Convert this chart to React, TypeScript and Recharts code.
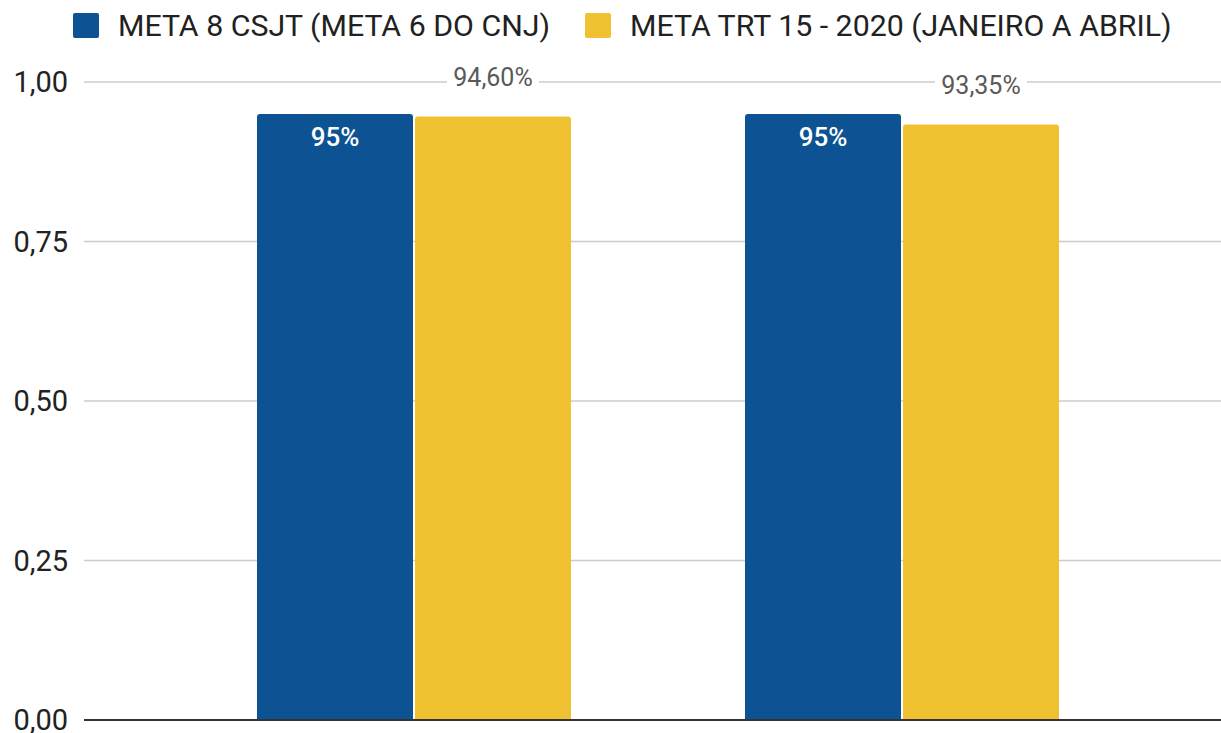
import React from "react";
import { BarChart, Bar, XAxis, YAxis, CartesianGrid, Legend, LabelList, ReferenceLine } from "recharts";

const categories = ["1", "2"];
const meta8Values = [0.95, 0.95];
const trt15Values = [0.946, 0.9335];
const yTicks = [0, 0.25, 0.5, 0.75, 1];
const seriesNames = ["META 8 CSJT (META 6 DO CNJ)", "META TRT 15 - 2020 (JANEIRO A ABRIL)"];
const seriesColors = ["#0D5394", "#F0C232"];

const data = categories.map((c, i) => ({
  cat: c,
  meta8: meta8Values[i],
  trt15: trt15Values[i],
}));

const FONT = "Roboto, 'Noto Sans', sans-serif";

const fmtTick = (v: number) => v.toFixed(2).replace(".", ",");
const fmtInt = (v: number) => `${Math.round(v * 100)}%`;
const fmtDec = (v: number) => `${(v * 100).toFixed(2).replace(".", ",")}%`;

const BlueLabel = (props: any) => {
  const { x, y, width, value } = props;
  return (
    <text
      x={x + width / 2}
      y={y + 23}
      textAnchor="middle"
      dominantBaseline="central"
      fill="#ffffff"
      fontFamily={FONT}
      fontSize={26}
      fontWeight={500}
    >
      {fmtInt(value)}
    </text>
  );
};

const YellowLabel = (props: any) => {
  const { x, y, width, value } = props;
  const cx = x + width / 2;
  const cy = y - 39;
  return (
    <g>
      <rect x={cx - 46} y={cy - 14} width={92} height={28} fill="#ffffff" />
      <text
        x={cx}
        y={cy}
        textAnchor="middle"
        dominantBaseline="central"
        fill="#5a5a5a"
        fontFamily={FONT}
        fontSize={25}
      >
        {fmtDec(value)}
      </text>
    </g>
  );
};

const LegendContent = (props: any) => {
  const payload = props.payload || [];
  return (
    <div
      style={{
        height: 50,
        display: "flex",
        alignItems: "center",
        paddingLeft: 73,
        boxSizing: "border-box",
        fontFamily: FONT,
        fontSize: 30.3,
        color: "#212121",
      }}
    >
      {payload.map((p: any, i: number) => (
        <div key={i} style={{ display: "flex", alignItems: "center", marginRight: 35 }}>
          <div
            style={{
              width: 26,
              height: 25,
              borderRadius: 2,
              background: p.color,
              marginRight: 19,
            }}
          />
          <span style={{ whiteSpace: "nowrap" }}>{p.value}</span>
        </div>
      ))}
    </div>
  );
};

export default function App() {
  return (
    <div style={{ position: "absolute", left: 0, top: 0, width: 1221, height: 733, background: "#fff" }}>
      <BarChart
        width={1221}
        height={733}
        data={data}
        margin={{ top: 32, right: 0, bottom: 13, left: 0 }}
        barGap={2}
        barSize={156}
      >
        <CartesianGrid horizontal={true} vertical={false} stroke="#cccccc" strokeWidth={1.5} />
        <XAxis
          dataKey="cat"
          tick={false}
          tickLine={false}
          height={0}
          axisLine={{ stroke: "#333333", strokeWidth: 2 }}
          padding={{ left: 86, right: 75 }}
        />
        <YAxis
          domain={[0, 1]}
          ticks={yTicks}
          tickFormatter={fmtTick}
          axisLine={false}
          tickLine={false}
          tickSize={0}
          tickMargin={16}
          width={84}
          interval={0}
          tick={{ fill: "#222222", fontSize: 29, fontFamily: FONT }}
        />
        <Legend verticalAlign="top" content={LegendContent} wrapperStyle={{ top: 0, left: 0, width: 1221, height: 50 }} />
        <Bar dataKey="meta8" name={seriesNames[0]} fill={seriesColors[0]} radius={[3, 3, 0, 0]} isAnimationActive={false}>
          <LabelList dataKey="meta8" content={BlueLabel} />
        </Bar>
        <Bar dataKey="trt15" name={seriesNames[1]} fill={seriesColors[1]} radius={[3, 3, 0, 0]} isAnimationActive={false}>
          <LabelList dataKey="trt15" content={YellowLabel} />
        </Bar>
        <ReferenceLine y={0} stroke="#333333" strokeWidth={2} ifOverflow="extendDomain" />
      </BarChart>
    </div>
  );
}
